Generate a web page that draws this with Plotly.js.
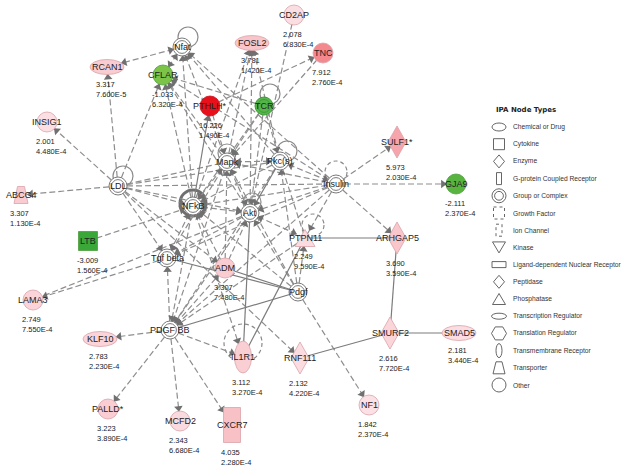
<!DOCTYPE html>
<html><head><meta charset="utf-8">
<script src="https://cdn.plot.ly/plotly-3.0.1.min.js"></script>
<style>html,body{margin:0;padding:0;background:#fff;}#chart{width:629px;height:470px;}</style>
</head><body><div id="chart"></div>
<script>
// ---------------- DATA ----------------
const nodeNames = ["Nfat","RCAN1","CFLAR","FOSL2","CD2AP","TNC","PTHLH*","TCR","INSIG1","SULF1*",
  "Mapk","Pkc(s)","Insulin","GJA9","LDL","ABCG4","NFkB","Akt","LTB","Tgf beta",
  "PTPN11","ARHGAP5","ADM","Pdgf","LAMA3","PDGF BB","KLF10","SMURF2","SMAD5","IL1R1",
  "RNF111","PALLD*","MCFD2","CXCR7","NF1"];
const nodeFold = [null,3.317,-1.033,3.781,2.078,7.912,16.226,null,2.001,5.973,
  null,null,null,-2.111,null,3.307,null,null,-3.009,null,
  2.249,3.690,3.307,null,2.749,null,2.783,2.616,2.181,3.112,
  2.132,3.223,2.343,4.035,1.842];
const nodePval = [null,7.6e-5,6.32e-4,1.42e-4,6.83e-4,2.76e-4,1.49e-4,null,4.48e-4,2.03e-4,
  null,null,null,2.37e-4,null,1.13e-4,null,null,1.56e-4,null,
  9.59e-4,3.59e-4,7.48e-4,null,7.55e-4,null,2.23e-4,7.72e-4,3.44e-4,3.27e-4,
  4.22e-4,3.89e-4,6.68e-4,2.28e-4,2.37e-4];
const nodeType = ["complex","transcription","other","transcription","other","other","other","complex","other","enzyme",
  "complex","complex","complex","other","complex","transporter","complex","complex","cytokine","complex",
  "phosphatase","enzyme","other","complex","other","complex","transcription","enzyme","transcription","transmembrane",
  "enzyme","other","other","gpcr","other"];
// network layout (pixel positions of the node centres)
const nodeX = [182,107,163,252,294,323,210,264,47,397, 227,280,336,456,118,21,193,250,88,167, 305,397,225,298,33,170,100,390,459,243, 300,108,180,232,369];
const nodeY = [47,67,75,43,15,53,106,106,122,142, 162,161,184,184,186,195,206,213,241,258, 238,238,268,292,300,330,339,333,333,357, 358,409,421,425,405];

const edgeFrom = ["Nfat","Nfat","Mapk","Pkc(s)","Insulin","NFkB","LDL","LDL","NFkB","Akt","Mapk","Insulin","LDL","LDL","LTB","Tgf beta","Akt",
  "Mapk","Akt","NFkB","Pkc(s)","CD2AP","PTHLH*","TNC","NFkB","PTHLH*","TCR","TCR","TCR","TCR","TCR","Mapk",
  "LDL","LDL","LDL","LDL","LDL","LDL","LDL","LDL",
  "Insulin","Insulin","Insulin","Insulin","Insulin","Insulin","Insulin","Insulin","Insulin",
  "Mapk","Mapk","NFkB","Pkc(s)","Pkc(s)","Pkc(s)","NFkB","Mapk","Akt","ADM","ADM","ADM",
  "Akt","Akt","PTPN11","PTPN11","Pdgf","Tgf beta","ADM","PDGF BB","Pdgf","Pdgf","Pdgf","Pdgf","Pdgf",
  "ARHGAP5","SMURF2","SMURF2",
  "PDGF BB","PDGF BB","PDGF BB","PDGF BB","PDGF BB","PDGF BB","PDGF BB",
  "NFkB","Akt","Mapk","Pkc(s)","Insulin","PTPN11","NFkB"];
const edgeTo = ["RCAN1","CFLAR","Nfat","Nfat","Nfat","Nfat","RCAN1","CFLAR","CFLAR","CFLAR","CFLAR","CFLAR","INSIG1","ABCG4","NFkB","LAMA3","LAMA3",
  "FOSL2","FOSL2","FOSL2","FOSL2","Akt","TNC","Mapk","PTHLH*","Mapk","CFLAR","Mapk","Pkc(s)","Akt","NFkB","Pkc(s)",
  "Mapk","Pkc(s)","Insulin","NFkB","Akt","Tgf beta","ADM","RNF111",
  "SULF1*","GJA9","ARHGAP5","Mapk","Akt","NFkB","Pkc(s)","PTPN11","Tgf beta",
  "NFkB","Akt","Akt","Akt","NFkB","PTPN11","Tgf beta","Tgf beta","Tgf beta","NFkB","Akt","Mapk",
  "IL1R1","PTPN11","ARHGAP5","IL1R1","PTPN11","Pdgf","Pdgf","Pdgf","NF1","NFkB","Akt","Mapk","Pkc(s)",
  "SMURF2","SMAD5","RNF111",
  "KLF10","PALLD*","MCFD2","CXCR7","IL1R1","Tgf beta","ADM",
  "PDGF BB","PDGF BB","PDGF BB","PDGF BB","PDGF BB","PDGF BB","IL1R1"];
const edgeStyle = ["b","b","a","a","a","a","a","a","a","a","a","a","a","a","a","a","n",
  "a","a","a","a","n","a","a","sa","a","a","a","a","a","a","b",
  "n","n","n","a","a","a","a","a",
  "a","a","a","a","a","a","b","a","a",
  "b","b","b","sa","a","n","b","a","a","a","a","a",
  "s","b","s","s","a","s","s","s","a","a","a","a","a",
  "s","s","s",
  "a","a","a","a","a","a","a",
  "a","a","a","a","a","a","a"];

const legendLabels = ["Chemical or Drug","Cytokine","Enzyme","G-protein Coupled Receptor","Group or Complex","Growth Factor",
  "Ion Channel","Kinase","Ligand-dependent Nuclear Receptor","Peptidase","Phosphatase","Transcription Regulator",
  "Translation Regulator","Transmembrane Receptor","Transporter","Other"];
const legendSymbols = ["chem","cytokine","enzyme","gpcr","complex","growth","ion","kinase","ligand","enzyme","phosphatase",
  "transcriptionL","hexagon","transmembraneL","transporterL","otherL"];

// self-loops (layout)
const loopNode = ["Nfat","TCR","Pkc(s)","LDL","Akt","Mapk","Insulin","PTPN11","IL1R1","NFkB"];
const loopDx = [6,6,7,5,2,0,0,8,0,0];
const loopDy = [-10,-12,-10,-10,-11,-9,-12,-13,-14,-3];
const loopR  = [10,10,10,10,9,9,11,11,19,13];
const loopDash=["solid","solid","solid","solid","solid","solid","dash","dash","dash","solid"];

// ---------------- DRAWING ----------------
const idx = {}; nodeNames.forEach((n,i)=>idx[n]=i);
const typeSize = {complex:[18,18],other:[20,20],transcription:[34,15],enzyme:[18,32],transmembrane:[17,32],
  gpcr:[17,35],cytokine:[19,19],phosphatase:[20,17],transporter:[14,17]};
function boundary(type,ux,uy){
  const s=typeSize[type], a=s[0]/2, b=s[1]/2;
  if(type==='enzyme') return 1/(Math.abs(ux)/a+Math.abs(uy)/b);
  if(type==='gpcr'||type==='cytokine'||type==='transporter')
    return Math.min(Math.abs(ux)>1e-6?a/Math.abs(ux):1e9, Math.abs(uy)>1e-6?b/Math.abs(uy):1e9);
  return 1/Math.sqrt((ux/a)**2+(uy/b)**2);
}
function lerp(c1,c2,t){return 'rgb('+c1.map((v,i)=>Math.round(v+(c2[i]-v)*t)).join(',')+')';}
function foldColor(f,name){
  if(name==='TCR') return 'rgb(84,182,72)';
  if(f===null) return '#ffffff';
  if(f>0){const t=Math.max(0,Math.min(1,(f-1.8)/14.4));return lerp([251,226,230],[232,16,26],t);}
  const t=Math.max(0,Math.min(1,(-f-1)/2));return lerp([125,196,72],[58,168,56],t);
}
function outline(f,name){
  if(name==='TCR') return '#3f9a3a';
  if(f===null) return '#7a7a7a';
  if(f>10) return '#c8101a';
  if(f>0) return '#d9a3aa';
  return '#4e9e3c';
}
function shapeSet(kind,cx,cy,w,h,fill,lc,lw,dash){
  const base={xref:'x',yref:'y',layer:'above',fillcolor:fill,line:{color:lc,width:lw,dash:dash||'solid'}};
  const a=w/2,b=h/2; const P=(pts)=>'M'+pts.map(p=>p[0]+','+p[1]).join(' L')+' Z';
  switch(kind){
    case 'circle': case 'ellipse':
      return [Object.assign({type:'circle',x0:cx-a,x1:cx+a,y0:cy-b,y1:cy+b},base)];
    case 'rect':
      return [Object.assign({type:'rect',x0:cx-a,x1:cx+a,y0:cy-b,y1:cy+b},base)];
    case 'diamond':
      return [Object.assign({type:'path',path:P([[cx,cy-b],[cx+a,cy],[cx,cy+b],[cx-a,cy]])},base)];
    case 'triup':
      return [Object.assign({type:'path',path:P([[cx,cy-b],[cx+a,cy+b],[cx-a,cy+b]])},base)];
    case 'tridown':
      return [Object.assign({type:'path',path:P([[cx-a,cy-b],[cx+a,cy-b],[cx,cy+b]])},base)];
    case 'trap':
      return [Object.assign({type:'path',path:P([[cx-a*0.5,cy-b],[cx+a*0.5,cy-b],[cx+a,cy+b],[cx-a,cy+b]])},base)];
    case 'hex':
      return [Object.assign({type:'path',path:P([[cx-a,cy],[cx-a/2,cy-b],[cx+a/2,cy-b],[cx+a,cy],[cx+a/2,cy+b],[cx-a/2,cy+b]])},base)];
    case 'double':
      return [Object.assign({type:'circle',x0:cx-a,x1:cx+a,y0:cy-b,y1:cy+b},base),
              Object.assign({type:'circle',x0:cx-a+2.6,x1:cx+a-2.6,y0:cy-b+2.6,y1:cy+b-2.6},base)];
  }
  return [];
}
const kindOf = {complex:'double',other:'circle',transcription:'ellipse',enzyme:'diamond',transmembrane:'ellipse',
  gpcr:'rect',cytokine:'rect',phosphatase:'triup',transporter:'trap'};

const shapes=[]; const annotations=[];
// self loops
loopNode.forEach((n,k)=>{
  const i=idx[n]; const cx=nodeX[i]+loopDx[k], cy=nodeY[i]+loopDy[k], r=loopR[k];
  shapes.push({type:'circle',xref:'x',yref:'y',layer:'below',x0:cx-r,x1:cx+r,y0:cy-r,y1:cy+r,
    line:{color:n==='NFkB'?'#6f6f6f':'#8a8a8a',width:n==='NFkB'?3:1.2,dash:loopDash[k]==='dash'?'4px,3px':'solid'}});
});
// edges
const dX=[],dY=[],sX=[],sY=[],aX=[],aY=[],aA=[];
edgeFrom.forEach((f,k)=>{
  const s=idx[f], t=idx[edgeTo[k]], st=edgeStyle[k];
  const x1=nodeX[s],y1=nodeY[s],x2=nodeX[t],y2=nodeY[t];
  const L=Math.hypot(x2-x1,y2-y1), ux=(x2-x1)/L, uy=(y2-y1)/L;
  if(st[0]==='s'){sX.push(x1,x2,null);sY.push(y1,y2,null);} else {dX.push(x1,x2,null);dY.push(y1,y2,null);}
  if(st==='a'||st==='b'||st==='sa'){
    const r=boundary(nodeType[t],ux,uy)+3; aX.push(x2-ux*r); aY.push(y2-uy*r); aA.push(Math.atan2(ux,-uy)*180/Math.PI);
  }
  if(st==='b'){
    const r=boundary(nodeType[s],-ux,-uy)+3; aX.push(x1+ux*r); aY.push(y1+uy*r); aA.push(Math.atan2(-ux,uy)*180/Math.PI);
  }
});
// nodes
nodeNames.forEach((n,i)=>{
  const ty=nodeType[i], sz=typeSize[ty], f=nodeFold[i];
  shapeSet(kindOf[ty],nodeX[i],nodeY[i],sz[0],sz[1],foldColor(f,n),outline(f,n),ty==='complex'?1:0.8).forEach(s=>shapes.push(s));
  annotations.push({x:nodeX[i],y:nodeY[i],xref:'x',yref:'y',text:n,showarrow:false,
    font:{family:'Liberation Sans, Arial, sans-serif',size:9,color:'#222'},xanchor:'center',yanchor:'middle'});
  if(f!==null){
    annotations.push({x:nodeX[i]-13,y:nodeY[i]+sz[1]/2+3,xref:'x',yref:'y',
      text:f.toFixed(3)+'<br>'+nodePval[i].toExponential(3).toUpperCase(),
      showarrow:false,align:'left',xanchor:'left',yanchor:'top',
      font:{family:'Liberation Sans, Arial, sans-serif',size:7.5,color:'#222'}});
  }
});
// legend
const LX=499, LT=127, LS=17.2;
annotations.push({x:494,y:110,xref:'x',yref:'y',text:'<b>IPA Node Types</b>',showarrow:false,xanchor:'left',yanchor:'middle',
  font:{family:'DejaVu Sans, Verdana, sans-serif',size:7,color:'#222'}});
legendLabels.forEach((lab,k)=>{
  const cy=LT+k*LS, lc='#555', lw=0.9, fw='#ffffff';
  const sym=legendSymbols[k]; let sh=[];
  switch(sym){
    case 'chem': sh=shapeSet('ellipse',LX,cy,14,8,fw,lc,lw); break;
    case 'cytokine': sh=shapeSet('rect',LX,cy,11,11,fw,lc,lw); break;
    case 'enzyme': sh=shapeSet('diamond',LX,cy,11,13,fw,lc,lw); break;
    case 'gpcr': sh=shapeSet('rect',LX,cy,5,12,fw,lc,lw); break;
    case 'complex': sh=shapeSet('double',LX,cy,14,14,fw,lc,lw); break;
    case 'growth': sh=shapeSet('rect',LX,cy,11,12,fw,lc,lw,'dot'); break;
    case 'ion': sh=shapeSet('rect',LX,cy,6,12,fw,lc,lw,'dot'); break;
    case 'kinase': sh=shapeSet('tridown',LX,cy,13,11,fw,lc,lw); break;
    case 'ligand': sh=shapeSet('rect',LX,cy,14,6,fw,lc,lw); break;
    case 'phosphatase': sh=shapeSet('triup',LX,cy,13,11,fw,lc,lw); break;
    case 'transcriptionL': sh=shapeSet('ellipse',LX,cy,15,6,fw,lc,lw); break;
    case 'hexagon': sh=shapeSet('hex',LX,cy,15,13,fw,lc,lw); break;
    case 'transmembraneL': sh=shapeSet('ellipse',LX,cy,6,14,fw,lc,lw); break;
    case 'transporterL': sh=shapeSet('trap',LX,cy,12,12,fw,lc,lw); break;
    case 'otherL': sh=shapeSet('circle',LX,cy,14,14,fw,lc,lw); break;
  }
  sh.forEach(s=>shapes.push(s));
  annotations.push({x:511,y:cy,xref:'x',yref:'y',text:lab,showarrow:false,xanchor:'left',yanchor:'middle',
    font:{family:'Liberation Sans, Arial, sans-serif',size:6.7,color:'#333'}});
});

const traces=[
  {x:dX,y:dY,mode:'lines',type:'scatter',line:{color:'#8e8e8e',width:1.2,dash:'6px,3px'},hoverinfo:'skip',connectgaps:false},
  {x:sX,y:sY,mode:'lines',type:'scatter',line:{color:'#7c7c7c',width:1.2},hoverinfo:'skip',connectgaps:false},
  {x:aX,y:aY,mode:'markers',type:'scatter',marker:{symbol:'triangle-up',size:7.5,color:'#707070',angle:aA,line:{width:0}},hoverinfo:'skip'}
];
const layout={width:629,height:470,margin:{l:0,r:0,t:0,b:0},paper_bgcolor:'#fff',plot_bgcolor:'#fff',showlegend:false,
  xaxis:{range:[0,629],visible:false,fixedrange:true},
  yaxis:{range:[470,0],visible:false,fixedrange:true},
  shapes:shapes,annotations:annotations,hovermode:false};
Plotly.newPlot('chart',traces,layout,{displayModeBar:false,staticPlot:true});
</script></body></html>
